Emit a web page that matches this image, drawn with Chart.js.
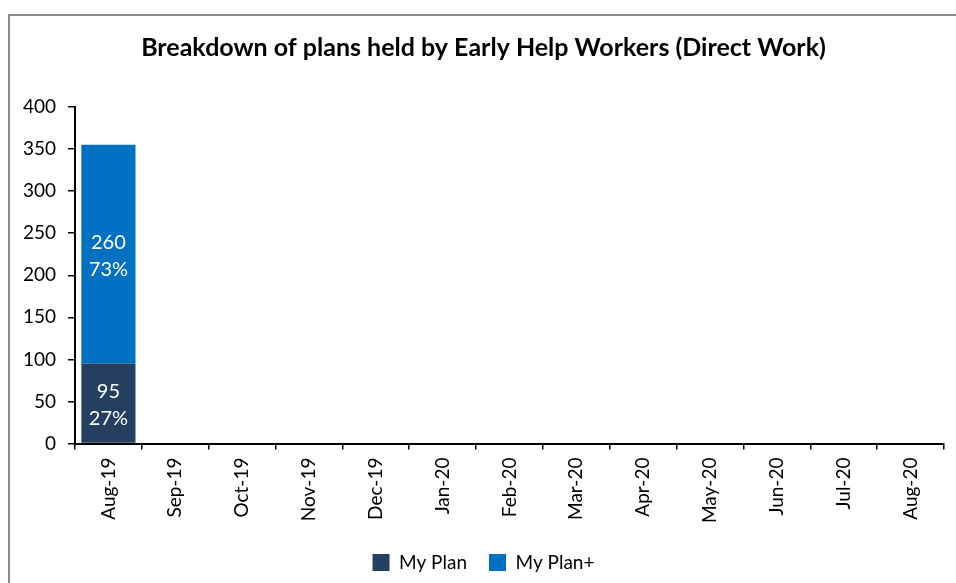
<!DOCTYPE html>
<html>
<head>
<meta charset="utf-8">
<script src="https://cdn.jsdelivr.net/npm/chart.js@4/dist/chart.umd.min.js"></script>
<style>
  html, body { margin: 0; padding: 0; background: #fff; overflow: hidden; }
  #frame {
    position: absolute; left: 8px; top: 14px;
    width: 1000px; height: 1000px;
    border: 2px solid #8c8c8c;
  }
  #wrap { position: absolute; left: 0; top: 0; width: 956px; height: 583px; }
</style>
</head>
<body>
<div id="frame"></div>
<div id="wrap"><canvas id="planChart" width="956" height="583"></canvas></div>
<script>
const months = ["Aug-19", "Sep-19", "Oct-19", "Nov-19", "Dec-19", "Jan-20", "Feb-20",
  "Mar-20", "Apr-20", "May-20", "Jun-20", "Jul-20", "Aug-20"];
const myPlan = [95, null, null, null, null, null, null, null, null, null, null, null, null];
const myPlanPlus = [260, null, null, null, null, null, null, null, null, null, null, null, null];
const yTicks = { min: 0, max: 400, step: 50 };

const FONT = "Lato, 'Open Sans', sans-serif";

// white value + share labels inside each bar segment
const segmentLabels = {
  id: "segmentLabels",
  afterDatasetsDraw(chart) {
    const ctx = chart.ctx;
    const sets = chart.data.datasets;
    ctx.save();
    ctx.fillStyle = "#fff";
    ctx.font = "20px " + FONT;
    ctx.textAlign = "center";
    ctx.textBaseline = "middle";
    sets.forEach((ds, di) => {
      const meta = chart.getDatasetMeta(di);
      meta.data.forEach((bar, i) => {
        const v = ds.data[i];
        if (!v) return;
        let total = 0;
        sets.forEach((s) => { total += s.data[i] || 0; });
        const pct = Math.round((v / total) * 100) + "%";
        const cy = (bar.y + bar.base) / 2;
        ctx.fillText(String(v), bar.x, cy - 12);
        ctx.fillText(pct, bar.x, cy + 15);
      });
    });
    ctx.restore();
  },
};

new Chart(document.getElementById("planChart"), {
  type: "bar",
  data: {
    labels: months,
    datasets: [
      { label: "My Plan", data: myPlan, backgroundColor: "#243f60", barPercentage: 0.81, categoryPercentage: 1.0 },
      { label: "My Plan+", data: myPlanPlus, backgroundColor: "#0070c0", barPercentage: 0.81, categoryPercentage: 1.0 },
    ],
  },
  options: {
    responsive: false,
    animation: false,
    layout: { padding: { left: 23, right: 12, top: 26, bottom: 1 } },
    plugins: {
      title: {
        display: true,
        text: "Breakdown of plans held by Early Help Workers (Direct Work)",
        color: "#000",
        font: { family: FONT, size: 25, weight: "bold" },
        padding: { top: 7, bottom: 44 },
      },
      legend: {
        position: "bottom",
        labels: {
          color: "#000",
          font: { family: FONT, size: 19 },
          boxWidth: 17,
          boxHeight: 17,
          padding: 22,
        },
      },
      tooltip: { enabled: false },
    },
    scales: {
      x: {
        stacked: true,
        grid: { drawOnChartArea: false, drawTicks: true, tickLength: 6, color: "#000", lineWidth: 1.5 },
        border: { color: "#000", width: 2 },
        ticks: { color: "#000", font: { family: FONT, size: 19 }, minRotation: 90, maxRotation: 90, padding: 8 },
      },
      y: {
        stacked: true,
        min: yTicks.min,
        max: yTicks.max,
        afterFit(scale) { scale.width = 52; },
        grid: { drawOnChartArea: false, drawTicks: true, tickLength: 7, color: "#000", lineWidth: 1.5 },
        border: { color: "#000", width: 2 },
        ticks: { stepSize: yTicks.step, color: "#000", font: { family: FONT, size: 19 }, padding: 12 },
      },
    },
  },
  plugins: [segmentLabels],
});
</script>
</body>
</html>
